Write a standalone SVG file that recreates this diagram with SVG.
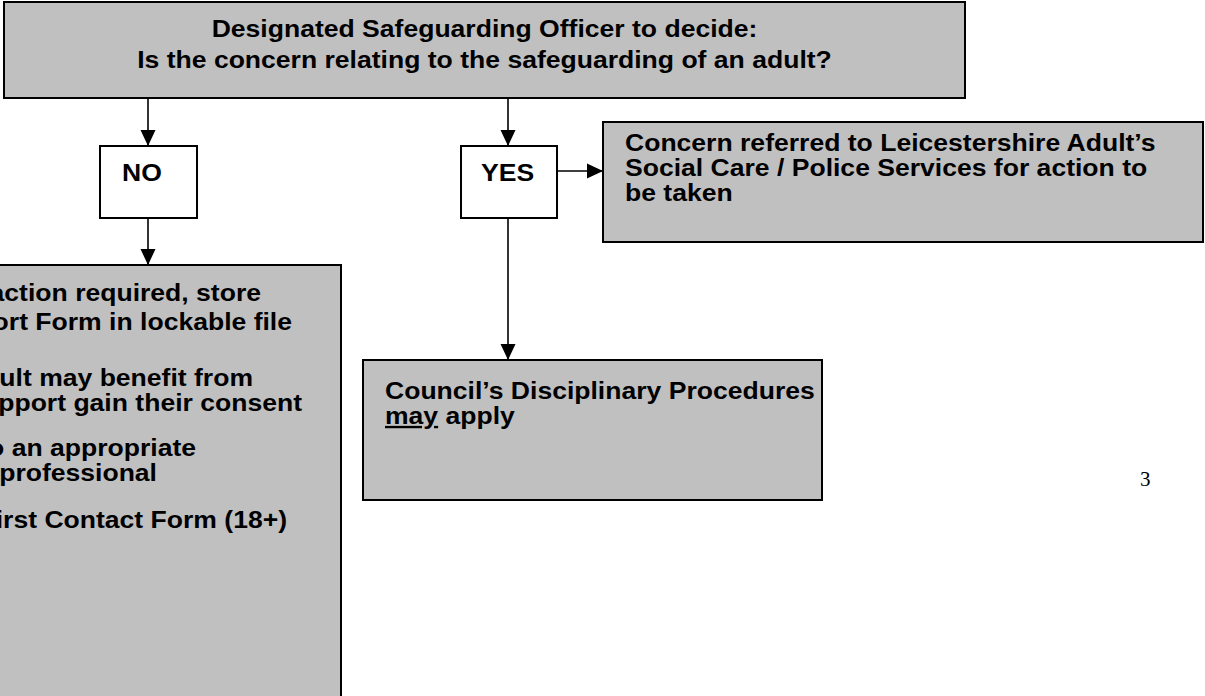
<svg xmlns="http://www.w3.org/2000/svg" width="1205" height="696" viewBox="0 0 1205 696">
<style>
.box{fill:#c0c0c0;stroke:#000;stroke-width:2}
.wbox{fill:#fff;stroke:#000;stroke-width:2}
.t{font-family:"Liberation Sans",Arial,sans-serif;font-weight:bold;font-size:23.5px;fill:#000}
.c{stroke:#000;stroke-width:1.6;fill:none}
.pg{font-family:"Liberation Serif","Times New Roman",serif;font-size:21px;fill:#000}
</style>
<defs>
<marker id="ah" viewBox="0 0 16 16" refX="16" refY="8" markerWidth="16" markerHeight="16" markerUnits="userSpaceOnUse" orient="auto">
<path d="M0,0.5 L16,8 L0,15.5 z" fill="#000"/>
</marker>
</defs>
<g id="connectors">
<line class="c" x1="148" y1="98" x2="148" y2="146" marker-end="url(#ah)"/>
<line class="c" x1="508" y1="98" x2="508" y2="146" marker-end="url(#ah)"/>
<line class="c" x1="148" y1="218" x2="148" y2="265" marker-end="url(#ah)"/>
<line class="c" x1="557" y1="171" x2="603" y2="171" marker-end="url(#ah)"/>
<line class="c" x1="508" y1="218" x2="508" y2="360" marker-end="url(#ah)"/>
</g>
<g id="decision">
<rect class="box" x="4" y="2" width="961" height="96"/>
<text class="t" transform="translate(484.5,37) scale(1.13,1)" text-anchor="middle">Designated Safeguarding Officer to decide:</text>
<text class="t" transform="translate(484.5,68) scale(1.13,1)" text-anchor="middle">Is the concern relating to the safeguarding of an adult?</text>
</g>
<g id="no">
<rect class="wbox" x="100" y="146" width="97" height="72"/>
<text class="t" transform="translate(122,181) scale(1.13,1)">NO</text>
</g>
<g id="yes">
<rect class="wbox" x="461" y="146" width="96" height="72"/>
<text class="t" transform="translate(481,181) scale(1.13,1)">YES</text>
</g>
<g id="referred">
<rect class="box" x="603" y="122" width="600" height="120"/>
<text class="t" transform="translate(625,151) scale(1.13,1)">Concern referred to Leicestershire Adult’s</text>
<text class="t" transform="translate(625,176) scale(1.13,1)">Social Care / Police Services for action to</text>
<text class="t" transform="translate(625,201) scale(1.13,1)">be taken</text>
</g>
<g id="no-action">
<rect class="box" x="-10" y="265" width="351" height="450"/>
<text class="t" transform="translate(261,301) scale(1.13,1)" text-anchor="end">action required, store</text>
<text class="t" transform="translate(292,330) scale(1.13,1)" text-anchor="end">ort Form in lockable file</text>
<text class="t" transform="translate(253,386) scale(1.13,1)" text-anchor="end">ult may benefit from</text>
<text class="t" transform="translate(302,411) scale(1.13,1)" text-anchor="end">pport gain their consent</text>
<text class="t" transform="translate(196,456) scale(1.13,1)" text-anchor="end">o an appropriate</text>
<text class="t" transform="translate(157,481) scale(1.13,1)" text-anchor="end">professional</text>
<text class="t" transform="translate(287,528) scale(1.13,1)" text-anchor="end">irst Contact Form (18+)</text>
</g>
<g id="disciplinary">
<rect class="box" x="363" y="360" width="459" height="140"/>
<text class="t" transform="translate(385,399) scale(1.13,1)">Council’s Disciplinary Procedures</text>
<text class="t" transform="translate(385,424) scale(1.13,1)"><tspan text-decoration="underline">may</tspan> apply</text>
</g>
<text class="pg" x="1140" y="486">3</text>
</svg>
